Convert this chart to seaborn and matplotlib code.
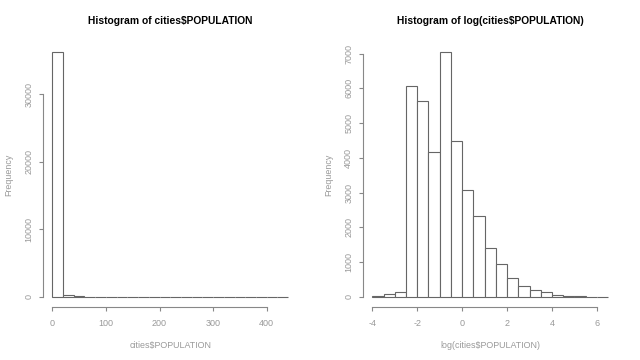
import numpy as np
import pandas as pd
import matplotlib
matplotlib.use("Agg")
import matplotlib.pyplot as plt
import seaborn as sns

# bin counts
pop_edges = np.arange(0, 460, 20)
pop_counts = [36200, 250, 100, 20, 15, 10, 8, 5, 4, 3, 2, 2, 1, 1, 1, 1, 1, 1, 1, 1, 1, 1]

log_edges = np.arange(-4, 7.0, 0.5)
log_counts = [30, 80, 140, 6080, 5630, 4180, 7040, 4480, 3080, 2320, 1410,
              940, 540, 310, 195, 135, 55, 30, 15, 8, 5]

sns.set_theme(style="white")
plt.rcParams["font.family"] = ["Liberation Sans", "DejaVu Sans"]
plt.rcParams["axes.unicode_minus"] = False

text_col = "#999999"
line_col = "#888888"

fig = plt.figure(figsize=(6.4, 3.6), dpi=100)
ax1 = fig.add_axes([0.067, 0.148, 0.398, 0.734])
ax2 = fig.add_axes([0.567, 0.148, 0.398, 0.734])


def r_hist(ax, edges, counts, xlim, ylim, xticks, yticks, title, xlabel):
    df = pd.DataFrame({"x": (edges[:-1] + edges[1:]) / 2, "n": counts})
    sns.histplot(data=df, x="x", weights="n", bins=[float(e) for e in edges],
                 ax=ax, color="white", edgecolor="#666666", linewidth=0.8, alpha=1)
    ax.set_xlim(*xlim)
    ax.set_ylim(*ylim)
    ax.set_xticks(xticks)
    ax.set_yticks(yticks)
    ax.set_yticklabels([str(t) for t in yticks], rotation=90, va="center")
    for s in ["top", "right"]:
        ax.spines[s].set_visible(False)
    ax.spines["left"].set_bounds(yticks[0], yticks[-1])
    ax.spines["bottom"].set_bounds(xticks[0], xticks[-1])
    for s in ["left", "bottom"]:
        ax.spines[s].set_color(line_col)
        ax.spines[s].set_linewidth(0.8)
    ax.tick_params(axis="both", direction="out", length=3, width=0.8,
                   bottom=True, left=True, colors=line_col,
                   labelcolor=text_col, labelsize=6.5)
    ax.tick_params(axis="x", pad=6)
    ax.tick_params(axis="y", pad=4)
    ax.set_title(title, fontsize=7.4, fontweight="bold", color="black", pad=13)
    ax.set_xlabel(xlabel, fontsize=6.4, color=text_col, labelpad=9)
    ax.set_ylabel("Frequency", fontsize=6.4, color=text_col, labelpad=8)
    ax.grid(False)


r_hist(ax1, pop_edges, pop_counts, (-17.6, 457.6), (-1448, 37648),
       [0, 100, 200, 300, 400], [0, 10000, 20000, 30000],
       "Histogram of cities$POPULATION", "cities$POPULATION")
r_hist(ax2, log_edges, log_counts, (-4.42, 6.92), (-281, 7321),
       [-4, -2, 0, 2, 4, 6], [0, 1000, 2000, 3000, 4000, 5000, 6000, 7000],
       "Histogram of log(cities$POPULATION)", "log(cities$POPULATION)")

fig.savefig("out.png", dpi=100)
